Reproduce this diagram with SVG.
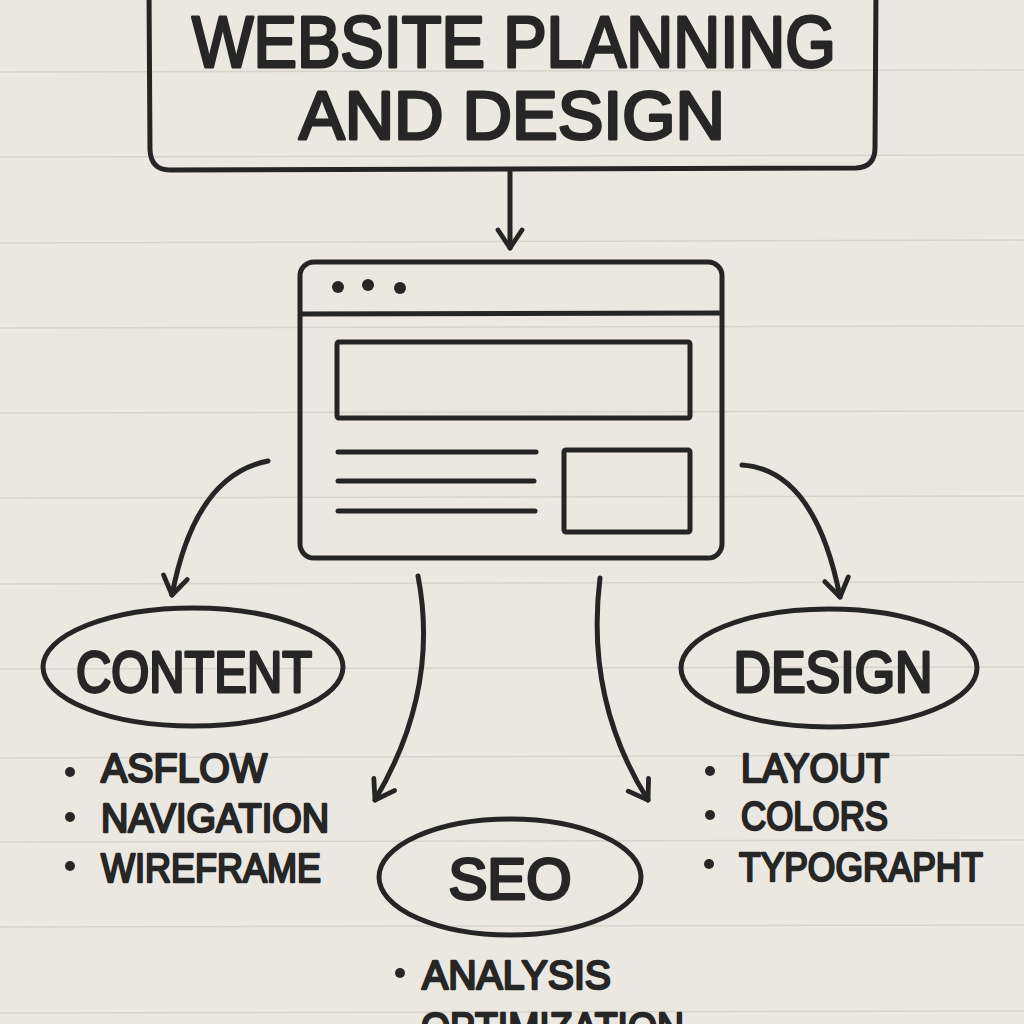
<svg xmlns="http://www.w3.org/2000/svg" width="1024" height="1024" viewBox="0 0 1024 1024">
<defs>
<style>
.ink{fill:none;stroke:#252525;stroke-width:5;stroke-linecap:round;stroke-linejoin:round}
.rule{stroke:#d6d3cd;stroke-width:1.5}
.t{font-family:"Liberation Sans","DejaVu Sans",sans-serif;font-weight:400;fill:#262626;stroke:#262626;stroke-width:3;stroke-linejoin:round;stroke-linecap:round}
.s{stroke-width:2.4}
.dot{fill:#262626}
</style>
<marker id="ah" viewBox="0 0 20 20" refX="17" refY="10" markerWidth="30" markerHeight="30" markerUnits="userSpaceOnUse" orient="auto-start-reverse">
<path d="M5 2 L17 10 L5 18" fill="none" stroke="#252525" stroke-width="3.2" stroke-linecap="round" stroke-linejoin="round"/>
</marker>
</defs>
<rect width="1024" height="1024" fill="#ebe8e2"/>
<g id="rules">
<line class="rule" x1="0" y1="72" x2="1024" y2="70"/>
<line class="rule" x1="0" y1="157" x2="1024" y2="155"/>
<line class="rule" x1="0" y1="243" x2="1024" y2="240"/>
<line class="rule" x1="0" y1="328" x2="1024" y2="326"/>
<line class="rule" x1="0" y1="413" x2="1024" y2="411"/>
<line class="rule" x1="0" y1="498" x2="1024" y2="496"/>
<line class="rule" x1="0" y1="584" x2="1024" y2="582"/>
<line class="rule" x1="0" y1="669" x2="1024" y2="667"/>
<line class="rule" x1="0" y1="758" x2="1024" y2="755"/>
<line class="rule" x1="0" y1="842" x2="1024" y2="840"/>
<line class="rule" x1="0" y1="927" x2="1024" y2="925"/>
<line class="rule" x1="0" y1="1013" x2="1024" y2="1011"/>
</g>
<g id="title">
<path class="ink" d="M149 -10 L150 150 Q151 170 170 170 L856 168 Q875 167 875 148 L876 -10"/>
<text class="t" x="514" y="67" font-size="72" text-anchor="middle" textLength="644" lengthAdjust="spacingAndGlyphs">WEBSITE PLANNING</text>
<text class="t" x="512" y="139" font-size="68" text-anchor="middle" textLength="426" lengthAdjust="spacingAndGlyphs">AND DESIGN</text>
</g>
<g id="browser">
<rect class="ink" x="300" y="262" width="422" height="296" rx="14"/>
<line class="ink" x1="301" y1="314" x2="721" y2="313"/>
<circle class="dot" cx="338" cy="287" r="6"/>
<circle class="dot" cx="368" cy="285" r="6"/>
<circle class="dot" cx="400" cy="288" r="6"/>
<rect class="ink" x="337" y="342" width="353" height="76" rx="2"/>
<line class="ink" x1="338" y1="452" x2="536" y2="452"/>
<line class="ink" x1="338" y1="481" x2="534" y2="481"/>
<line class="ink" x1="338" y1="511" x2="535" y2="511"/>
<rect class="ink" x="564" y="450" width="126" height="82" rx="2"/>
</g>
<g id="content">
<ellipse class="ink" cx="193" cy="667" rx="150" ry="59"/>
<text class="t" x="194" y="692" font-size="58" text-anchor="middle" textLength="236" lengthAdjust="spacingAndGlyphs">CONTENT</text>
<circle class="dot" cx="70" cy="772" r="5"/>
<circle class="dot" cx="70" cy="817" r="5"/>
<circle class="dot" cx="70" cy="866" r="5"/>
<text class="t s" x="101" y="782" font-size="41" textLength="166" lengthAdjust="spacingAndGlyphs">ASFLOW</text>
<text class="t s" x="101" y="832" font-size="41" textLength="228" lengthAdjust="spacingAndGlyphs">NAVIGATION</text>
<text class="t s" x="101" y="882" font-size="41" textLength="220" lengthAdjust="spacingAndGlyphs">WIREFRAME</text>
</g>
<g id="design">
<ellipse class="ink" cx="829" cy="668" rx="148" ry="59"/>
<text class="t" x="833" y="692" font-size="58" text-anchor="middle" textLength="199" lengthAdjust="spacingAndGlyphs">DESIGN</text>
<circle class="dot" cx="710" cy="771" r="5"/>
<circle class="dot" cx="710" cy="815" r="5"/>
<circle class="dot" cx="709" cy="864" r="5"/>
<text class="t s" x="741" y="782" font-size="41" textLength="148" lengthAdjust="spacingAndGlyphs">LAYOUT</text>
<text class="t s" x="741" y="830" font-size="41" textLength="147" lengthAdjust="spacingAndGlyphs">COLORS</text>
<text class="t s" x="739" y="881" font-size="41" textLength="244" lengthAdjust="spacingAndGlyphs">TYPOGRAPHT</text>
</g>
<g id="seo">
<ellipse class="ink" cx="510" cy="877" rx="131" ry="58"/>
<text class="t" x="510" y="899" font-size="58" text-anchor="middle" textLength="123" lengthAdjust="spacingAndGlyphs">SEO</text>
<circle class="dot" cx="400" cy="973" r="5"/>
<text class="t s" x="422" y="989" font-size="41" textLength="189" lengthAdjust="spacingAndGlyphs">ANALYSIS</text>
<text class="t s" x="421" y="1041" font-size="41" textLength="263" lengthAdjust="spacingAndGlyphs">OPTIMIZATION</text>
</g>
<g id="connectors">
<path class="ink" d="M510 172 L510 248" marker-end="url(#ah)"/>
<path class="ink" d="M268 461 Q195 475 172 595" marker-end="url(#ah)"/>
<path class="ink" d="M742 465 Q815 470 840 597" marker-end="url(#ah)"/>
<path class="ink" d="M418 576 Q440 690 375 800" marker-end="url(#ah)"/>
<path class="ink" d="M600 578 Q585 700 648 800" marker-end="url(#ah)"/>
</g>
</svg>
